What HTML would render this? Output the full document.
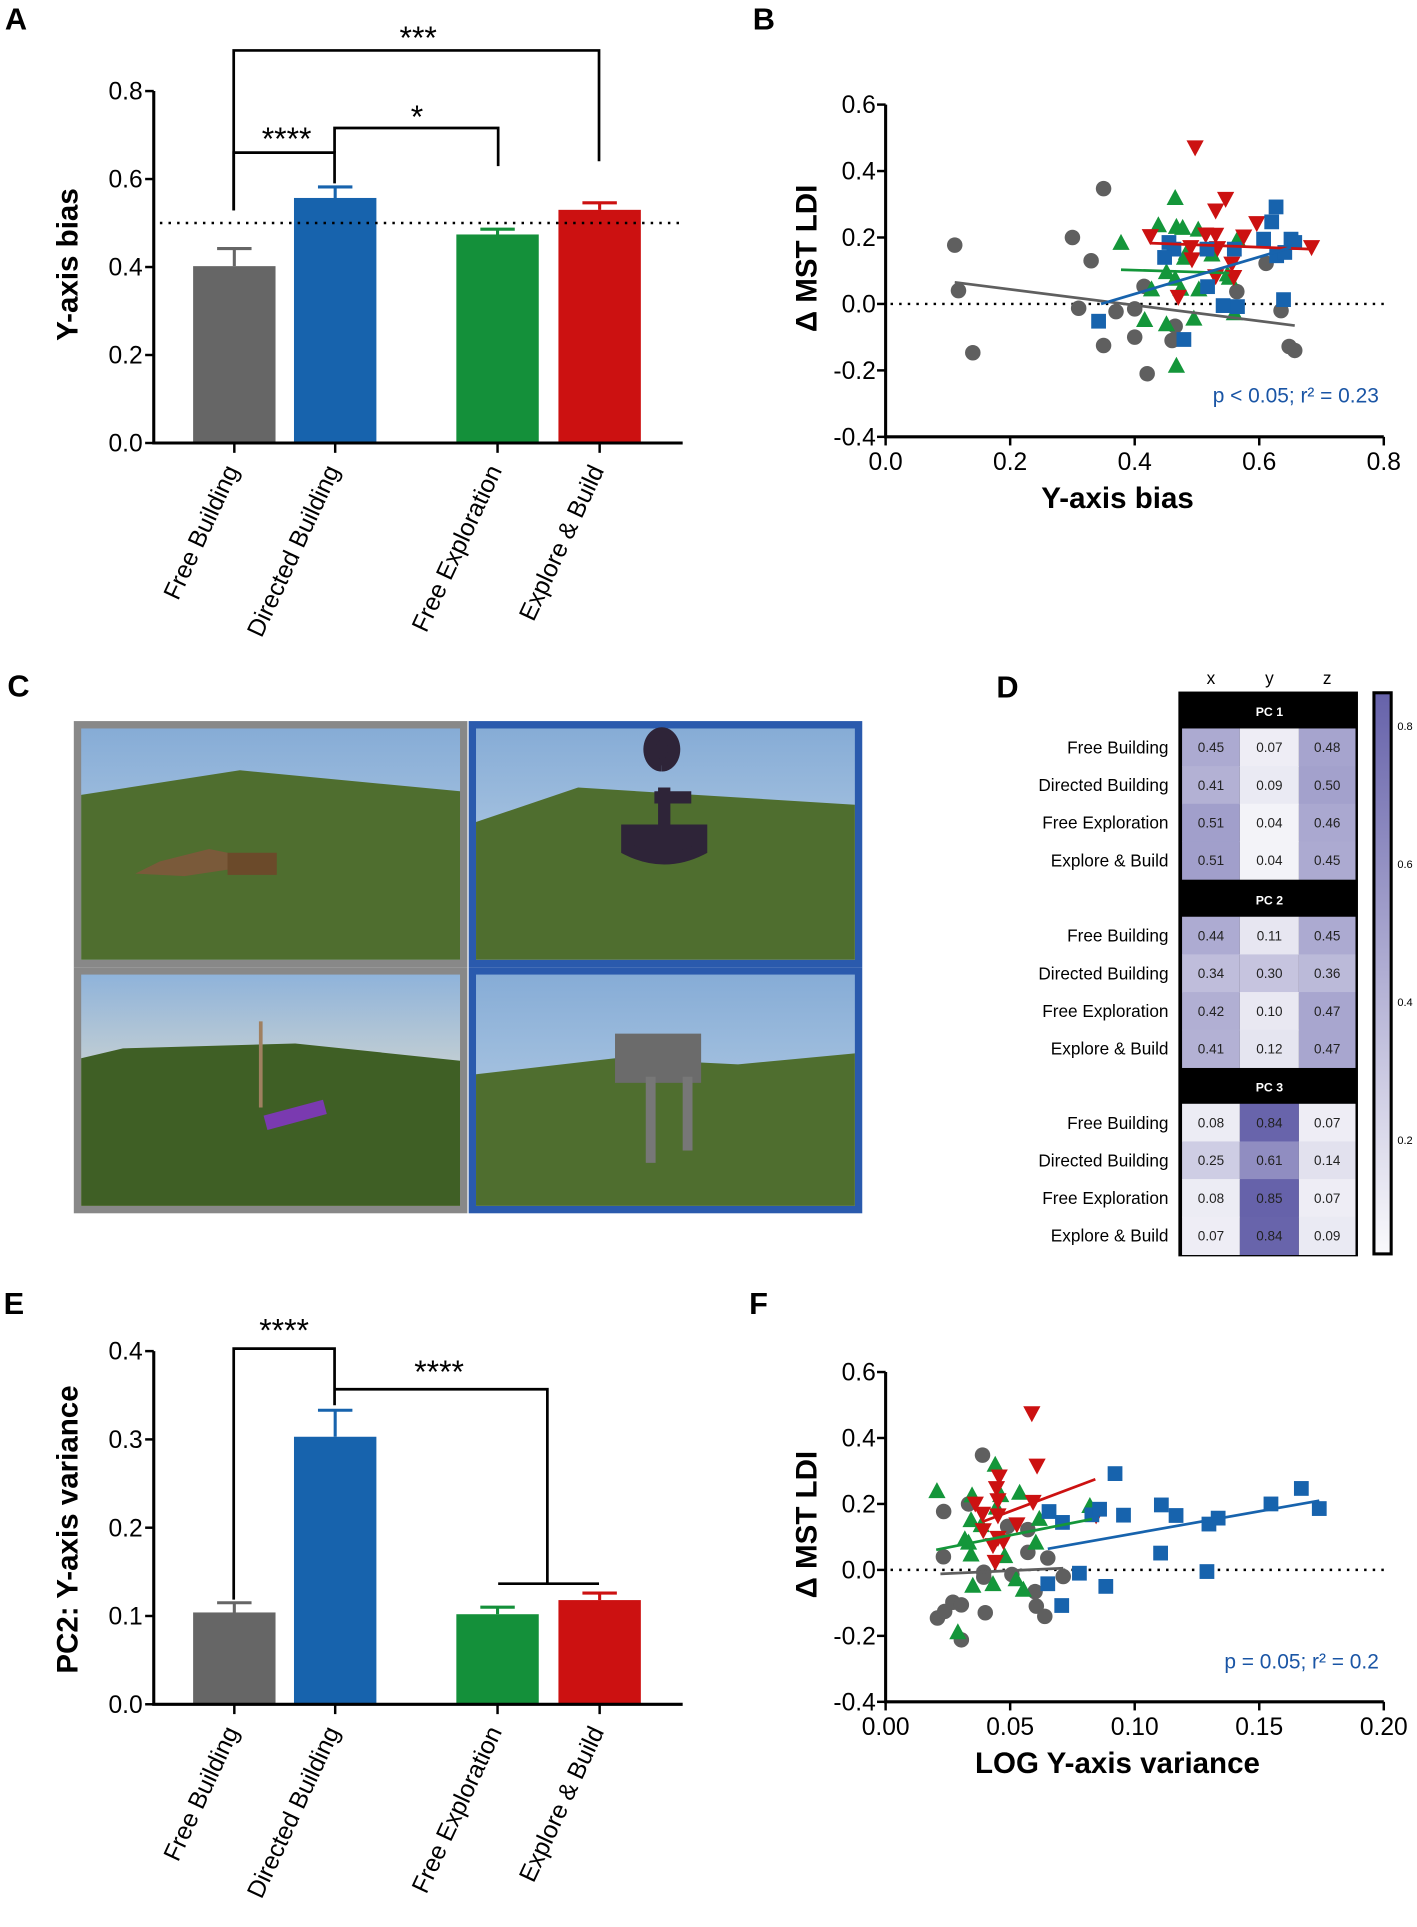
<!DOCTYPE html>
<html><head><meta charset="utf-8"><style>
html,body{margin:0;padding:0;background:#fff;}
svg{display:block;font-family:"Liberation Sans",Arial,sans-serif;}
</style></head><body>
<svg id="fig" width="1417" height="1927" viewBox="0 0 1152 1566" preserveAspectRatio="none" xmlns="http://www.w3.org/2000/svg">
<g>
 <rect x="60" y="586" width="320" height="200" fill="#888"/>
 <rect x="381" y="586" width="320" height="200" fill="#2a5aad"/>
 <rect x="60" y="786" width="320" height="200" fill="#888"/>
 <rect x="381" y="786" width="320" height="200" fill="#2a5aad"/>
 <defs>
  <linearGradient id="sky" x1="0" y1="0" x2="0" y2="1"><stop offset="0" stop-color="#86acd6"/><stop offset="1" stop-color="#c6d9ea"/></linearGradient>
  <linearGradient id="sky2" x1="0" y1="0" x2="0" y2="1"><stop offset="0" stop-color="#8fb3da"/><stop offset="0.6" stop-color="#dcdcd0"/><stop offset="1" stop-color="#e6dcc2"/></linearGradient>
 </defs>
 <rect x="66" y="592" width="308" height="188" fill="url(#sky)"/>
 <polygon points="66,646 195,626 374,643 374,780 66,780" fill="#4f6e2f"/>
 <rect x="387" y="592" width="308" height="188" fill="url(#sky)"/>
 <polygon points="387,668 470,640 695,654 695,780 387,780" fill="#4f6e2f"/>
 <rect x="66" y="792" width="308" height="188" fill="url(#sky2)"/>
 <polygon points="66,860 100,852 240,848 374,862 374,980 66,980" fill="#3f5f25"/>
 <rect x="387" y="792" width="308" height="188" fill="url(#sky)"/>
 <polygon points="387,873 500,860 600,865 695,856 695,980 387,980" fill="#4f6e2f"/>
 <polygon points="110,710 130,700 170,690 200,696 190,706 150,712" fill="#7a5a3a"/>
 <rect x="185" y="693" width="40" height="18" fill="#6b4a2a"/>
 <path d="M538,622 a10,13 0 1,1 0.1,0 M532,648 h30 M540,640 v50 M510,690 q30,15 60,0 v-15 h-60z" stroke="#2e2438" stroke-width="10" fill="#2e2438"/>
 <rect x="500" y="840" width="70" height="40" fill="#6b6b6b"/>
 <rect x="525" y="875" width="8" height="70" fill="#777"/>
 <rect x="555" y="875" width="8" height="60" fill="#777"/>
 <line x1="212" y1="900" x2="212" y2="830" stroke="#a08060" stroke-width="3"/>
 <rect x="215" y="900" width="50" height="12" fill="#7a3ab0" transform="rotate(-15 240 906)"/>
</g>
</svg>
<script>
// ---------- data ----------
const barCats = ["Free Building","Directed Building","Free Exploration","Explore & Build"];
const barColors = ["#666666","#1763ad","#14903a","#cc1111"];
const aMeans = [0.402, 0.557, 0.474, 0.530];
const aErrs = [0.040, 0.025, 0.012, 0.016];
const aTicks = [0.0,0.2,0.4,0.6,0.8];
const eMeans = [0.104, 0.303, 0.102, 0.118];
const eErrs = [0.011, 0.030, 0.008, 0.008];
const eTicks = [0.0,0.1,0.2,0.3,0.4];

const bTicksX = [0.0,0.2,0.4,0.6,0.8];
const bTicksY = [0.6,0.4,0.2,0.0,-0.2,-0.4];
const bGreyX = [0.111,0.117,0.14,0.30,0.35,0.33,0.415,0.31,0.37,0.40,0.35,0.40,0.42,0.46,0.467,0.465,0.564,0.611,0.635,0.648,0.657];
const bGreyY = [0.177,0.04,-0.147,0.20,0.347,0.13,0.053,-0.013,-0.023,-0.015,-0.125,-0.10,-0.21,-0.11,-0.105,-0.067,0.037,0.122,-0.02,-0.128,-0.14];
const bGreenX = [0.465,0.438,0.378,0.467,0.477,0.502,0.565,0.483,0.48,0.524,0.451,0.465,0.427,0.474,0.503,0.549,0.552,0.416,0.451,0.495,0.56,0.467];
const bGreenY = [0.32,0.238,0.185,0.233,0.23,0.225,0.195,0.155,0.14,0.15,0.097,0.077,0.045,0.047,0.045,0.09,0.08,-0.047,-0.06,-0.043,-0.027,-0.185];
const bRedX = [0.497,0.546,0.53,0.596,0.425,0.514,0.53,0.575,0.49,0.533,0.492,0.556,0.53,0.559,0.47,0.684];
const bRedY = [0.47,0.315,0.28,0.242,0.203,0.208,0.207,0.202,0.17,0.167,0.133,0.12,0.082,0.08,0.02,0.17];
const bBlueX = [0.627,0.62,0.607,0.651,0.657,0.455,0.463,0.448,0.516,0.56,0.628,0.641,0.517,0.639,0.542,0.565,0.342,0.479];
const bBlueY = [0.292,0.247,0.195,0.195,0.185,0.185,0.165,0.14,0.165,0.165,0.145,0.155,0.052,0.013,-0.005,-0.008,-0.052,-0.107];
const bFitGrey = [[0.111,0.065],[0.657,-0.065]];
const bFitGreen = [[0.378,0.103],[0.552,0.093]];
const bFitRed = [[0.425,0.183],[0.683,0.165]];
const bFitBlue = [[0.346,0.0],[0.651,0.17]];

const fTicksX = [0.00,0.05,0.10,0.15,0.20];
const fTicksY = [0.6,0.4,0.2,0.0,-0.2,-0.4];
const fGreyX = [0.0389,0.0333,0.0233,0.0232,0.049,0.0571,0.0571,0.0651,0.0394,0.0394,0.0507,0.0713,0.06,0.0605,0.0639,0.0208,0.0237,0.027,0.0304,0.04,0.0304];
const fGreyY = [0.348,0.20,0.177,0.04,0.132,0.122,0.053,0.036,-0.007,-0.022,-0.014,-0.02,-0.066,-0.11,-0.141,-0.146,-0.126,-0.098,-0.106,-0.13,-0.212];
const fGreenX = [0.044,0.0206,0.0347,0.0462,0.0538,0.0445,0.0343,0.0384,0.0617,0.082,0.0318,0.0333,0.0343,0.0478,0.0603,0.035,0.0431,0.0524,0.0553,0.029];
const fGreenY = [0.32,0.24,0.227,0.228,0.235,0.19,0.152,0.137,0.156,0.195,0.094,0.084,0.048,0.043,0.084,-0.047,-0.042,-0.027,-0.059,-0.188];
const fRedX = [0.0587,0.0608,0.0456,0.0445,0.0451,0.0592,0.036,0.0389,0.0451,0.0527,0.0392,0.0451,0.0431,0.0473,0.044,0.0845];
const fRedY = [0.474,0.315,0.282,0.247,0.21,0.205,0.20,0.169,0.164,0.137,0.119,0.096,0.074,0.086,0.023,0.164];
const fBlueX = [0.0921,0.0656,0.071,0.0828,0.0859,0.0955,0.1107,0.1166,0.1298,0.1335,0.1547,0.1669,0.1741,0.1104,0.129,0.0778,0.0651,0.0884,0.0707];
const fBlueY = [0.292,0.177,0.144,0.167,0.184,0.166,0.197,0.165,0.139,0.157,0.20,0.247,0.186,0.051,-0.005,-0.01,-0.042,-0.05,-0.108];
const fFitGrey = [[0.022,-0.012],[0.0713,0.005]];
const fFitGreen = [[0.0203,0.061],[0.0828,0.154]];
const fFitRed = [[0.0389,0.146],[0.0842,0.275]];
const fFitBlue = [[0.0651,0.064],[0.1741,0.21]];

const pcNames = ["PC 1","PC 2","PC 3"];
const axisNames = ["x","y","z"];
const rowNames = ["Free Building","Directed Building","Free Exploration","Explore & Build"];
const pc1Vals = [[0.45,0.07,0.48],[0.41,0.09,0.50],[0.51,0.04,0.46],[0.51,0.04,0.45]];
const pc2Vals = [[0.44,0.11,0.45],[0.34,0.30,0.36],[0.42,0.10,0.47],[0.41,0.12,0.47]];
const pc3Vals = [[0.08,0.84,0.07],[0.25,0.61,0.14],[0.08,0.85,0.07],[0.07,0.84,0.09]];
const cbTicks = [0.8,0.6,0.4,0.2];

// ---------- helpers ----------
const svg = document.getElementById('fig');
const NS = 'http://www.w3.org/2000/svg';
function mk(tag, attrs, parent){
  const e = document.createElementNS(NS, tag);
  for (const k in attrs) e.setAttribute(k, attrs[k]);
  (parent||svg).appendChild(e);
  return e;
}
function txt(str, attrs, parent){
  const e = mk('text', attrs, parent);
  e.textContent = str;
  return e;
}
function panelLetter(l, x, y){
  const t = txt(l, {x:x, y:y, 'font-size':25, 'font-weight':'bold'});
  
  
}
panelLetter('A', 4, 24);
panelLetter('B', 612, 24);
panelLetter('C', 6, 566);
panelLetter('D', 810, 567);
panelLetter('E', 3, 1068);
panelLetter('F', 609, 1068);

// ---------- bar charts ----------
function barChart(name, means, errs, ticks, yMin, yMax, yTop, yBot, title, titleY, brackets){
  const g = mk('g', {});
  
  
  const x0 = 125, x1 = 555;
  const barX = [157, 239, 371, 454];
  const bw = 67;
  const ys = v => yBot - (v - yMin) / (yMax - yMin) * (yBot - yTop);
  for (let i = 0; i < means.length; i++){
    const r = mk('rect', {x:barX[i], y:ys(means[i]), width:bw, height:ys(0)-ys(means[i]), fill:barColors[i]}, g);
    
    
    const cx = barX[i] + bw/2;
    const eb = mk('path', {d:`M${cx},${ys(means[i])} V${ys(means[i]+errs[i])} M${cx-14},${ys(means[i]+errs[i])} H${cx+14}`, stroke:barColors[i], 'stroke-width':2.5, fill:'none'}, g);
    
    
    const tk = mk('line', {x1:cx, y1:yBot, x2:cx, y2:yBot+8, stroke:'#000', 'stroke-width':2}, g);
    
    
    const lab = txt(barCats[i], {x:cx+4, y:yBot+22, 'font-size':20, 'text-anchor':'end', transform:`rotate(-65 ${cx+4} ${yBot+22})`}, g);
    
    
  }
  const ax = mk('path', {d:`M${x0},${yTop} V${yBot} H${x1}`, stroke:'#000', 'stroke-width':2.5, fill:'none'}, g);
  
  
  ticks.forEach(t => {
    const l = mk('line', {x1:x0-7, y1:ys(t), x2:x0, y2:ys(t), stroke:'#000', 'stroke-width':2}, g);
    
    
    const tt = txt(t.toFixed(1), {x:x0-9, y:ys(t)+7, 'font-size':20, 'text-anchor':'end'}, g);
    
    
  });
  const yt = txt(title, {x:63, y:titleY, 'font-size':24, 'font-weight':'bold', 'text-anchor':'middle', transform:`rotate(-90 63 ${titleY})`}, g);
  
  
  brackets.forEach(b => {
    const p = mk('path', {d:b.d, stroke:'#000', 'stroke-width':2.2, fill:'none'}, g);
    
    
    const s = txt(b.s, {x:b.x, y:b.y, 'font-size':26, 'text-anchor':'middle'}, g);
    
    
  });
  return {g, ys};
}
const A = barChart('panel-a-bar-chart', aMeans, aErrs, aTicks, 0, 0.8, 74, 360, 'Y-axis bias', 215, [
  {d:'M190,171 V41 H487 V131', s:'***', x:340, y:40},
  {d:'M190,171 V124 H272 V149', s:'****', x:233, y:122},
  {d:'M272,124 V104 H405 V135', s:'*', x:339, y:104}
]);
const dl = mk('line', {x1:130, y1:A.ys(0.5), x2:555, y2:A.ys(0.5), stroke:'#000', 'stroke-width':2, 'stroke-dasharray':'2,5'}, A.g);


barChart('panel-e-bar-chart', eMeans, eErrs, eTicks, 0, 0.4, 1098, 1385, 'PC2: Y-axis variance', 1243, [
  {d:'M190,1300 V1096 H272 V1142', s:'****', x:231, y:1090},
  {d:'M272,1129 H445 V1287 M405,1287 H487', s:'****', x:357, y:1124}
]);

// ---------- scatter plots ----------
function scatter(name, cfg){
  const g = mk('g', {});
  
  
  const xs = v => cfg.xL + (v - cfg.xMin)/(cfg.xMax - cfg.xMin)*(cfg.xR - cfg.xL);
  const ys = v => cfg.yB - (v - cfg.yMin)/(cfg.yMax - cfg.yMin)*(cfg.yB - cfg.yT);
  const zl = mk('line', {x1:cfg.xL+4, y1:ys(0), x2:cfg.xR, y2:ys(0), stroke:'#000', 'stroke-width':2, 'stroke-dasharray':'2,5'}, g);
  
  
  const ax = mk('path', {d:`M${cfg.xL},${cfg.yT} V${cfg.yB} H${cfg.xR}`, stroke:'#000', 'stroke-width':2.5, fill:'none'}, g);
  
  
  cfg.ticksX.forEach(t => {
    const l = mk('line', {x1:xs(t), y1:cfg.yB, x2:xs(t), y2:cfg.yB+7, stroke:'#000', 'stroke-width':2}, g);
    
    
    const tt = txt(t.toFixed(cfg.dx), {x:xs(t), y:cfg.yB+27, 'font-size':20, 'text-anchor':'middle'}, g);
    
    
  });
  cfg.ticksY.forEach(t => {
    const l = mk('line', {x1:cfg.xL-7, y1:ys(t), x2:cfg.xL, y2:ys(t), stroke:'#000', 'stroke-width':2}, g);
    
    
    const tt = txt(t.toFixed(1), {x:cfg.xL-8, y:ys(t)+7, 'font-size':20, 'text-anchor':'end'}, g);
    
    
  });
  const cx = (cfg.xL+cfg.xR)/2, cy = (cfg.yT+cfg.yB)/2;
  const xt = txt(cfg.xTitle, {x:cx-14, y:cfg.yB+58, 'font-size':24, 'font-weight':'bold', 'text-anchor':'middle'}, g);
  
  
  const yt = txt('Δ MST LDI', {x:cfg.xL-56, y:cy-10, 'font-size':24, 'font-weight':'bold', 'text-anchor':'middle', transform:`rotate(-90 ${cfg.xL-56} ${cy-10})`}, g);
  
  
  const series = [
    {X:cfg.grey[0], Y:cfg.grey[1], c:'#5f5f5f', m:'circle', n:'free-building', fit:cfg.grey[2]},
    {X:cfg.green[0], Y:cfg.green[1], c:'#14963a', m:'up', n:'free-exploration', fit:cfg.green[2]},
    {X:cfg.red[0], Y:cfg.red[1], c:'#cc1111', m:'down', n:'explore-build', fit:cfg.red[2]},
    {X:cfg.blue[0], Y:cfg.blue[1], c:'#1763ad', m:'square', n:'directed-building', fit:cfg.blue[2]}
  ];
  series.forEach(s => {
    for (let i = 0; i < s.X.length; i++){
      const px = xs(s.X[i]), py = ys(s.Y[i]);
      let e;
      if (s.m === 'circle') e = mk('circle', {cx:px, cy:py, r:6.3, fill:s.c}, g);
      else if (s.m === 'square') e = mk('rect', {x:px-6, y:py-6, width:12, height:12, fill:s.c}, g);
      else if (s.m === 'up') e = mk('polygon', {points:`${px},${py-7} ${px+7},${py+6} ${px-7},${py+6}`, fill:s.c}, g);
      else e = mk('polygon', {points:`${px},${py+7} ${px+7},${py-6} ${px-7},${py-6}`, fill:s.c}, g);
      
      
    }
  });
  series.forEach(s => {
    const f = s.fit;
    const l = mk('line', {x1:xs(f[0][0]), y1:ys(f[0][1]), x2:xs(f[1][0]), y2:ys(f[1][1]), stroke:s.c, 'stroke-width':2.2}, g);
    
    
  });
  const an = txt(cfg.note, {x:cfg.xR-4, y:cfg.noteY, 'font-size':17, fill:'#1a55a5', 'text-anchor':'end'}, g);
  
  
}
scatter('panel-b-scatter', {xL:720, xR:1125, yT:85, yB:355, xMin:0, xMax:0.8, yMin:-0.4, yMax:0.6,
  ticksX:bTicksX, ticksY:bTicksY, dx:1, xTitle:'Y-axis bias',
  grey:[bGreyX,bGreyY,bFitGrey], green:[bGreenX,bGreenY,bFitGreen], red:[bRedX,bRedY,bFitRed], blue:[bBlueX,bBlueY,bFitBlue],
  note:'p < 0.05; r² = 0.23', noteY:327});
scatter('panel-f-scatter', {xL:720, xR:1125, yT:1115, yB:1383, xMin:0, xMax:0.2, yMin:-0.4, yMax:0.6,
  ticksX:fTicksX, ticksY:fTicksY, dx:2, xTitle:'LOG Y-axis variance',
  grey:[fGreyX,fGreyY,fFitGrey], green:[fGreenX,fGreenY,fFitGreen], red:[fRedX,fRedY,fFitRed], blue:[fBlueX,fBlueY,fFitBlue],
  note:'p = 0.05; r² = 0.2', noteY:1356});

// ---------- heatmap ----------
(function(){
  const g = mk('g', {});
  
  
  const colX = [961, 1008, 1056];
  const colW = [47, 48, 46];
  const blockTop = [562, 715, 867];
  const hdrH = 30, rowH = 30.6;
  const vmax = 0.85;
  const col = v => {
    const t = Math.max(0, Math.min(1, v / vmax));
    const r = Math.round(250 + (102-250)*t), gg = Math.round(250 + (98-250)*t), b = Math.round(252 + (170-252)*t);
    return `rgb(${r},${gg},${b})`;
  };
  const outer = mk('rect', {x:958, y:562, width:146, height:459, fill:'#000'}, g);
  
  
  axisNames.forEach((a, j) => {
    const t = txt(a, {x:colX[j]+colW[j]/2, y:556, 'font-size':14, 'text-anchor':'middle'}, g);
    
    
  });
  const blocks = [pc1Vals, pc2Vals, pc3Vals];
  blocks.forEach((vals, b) => {
    const ht = txt(pcNames[b], {x:1032, y:blockTop[b]+20, 'font-size':10, 'font-weight':'bold', fill:'#fff', 'text-anchor':'middle'}, g);
    
    
    vals.forEach((row, i) => {
      const y = blockTop[b] + hdrH + i*rowH;
      const rl = txt(rowNames[i], {x:950, y:y+rowH/2+5, 'font-size':14, 'text-anchor':'end'}, g);
      
      
      row.forEach((v, j) => {
        const c = mk('rect', {x:colX[j], y:y, width:colW[j], height:rowH+0.5, fill:col(v)}, g);
        
        
        const ct = txt(v.toFixed(2), {x:colX[j]+colW[j]/2, y:y+rowH/2+4, 'font-size':11, 'text-anchor':'middle', fill:'#222'}, g);
        
        
      });
    });
  });
  const defs = mk('defs', {}, g);
  const lg = mk('linearGradient', {id:'cbg', x1:0, y1:1, x2:0, y2:0}, defs);
  mk('stop', {offset:0, 'stop-color':col(0)}, lg);
  mk('stop', {offset:1, 'stop-color':col(0.87)}, lg);
  const cbY = v => 1039 - v * 561;
  const cb = mk('rect', {x:1117, y:563, width:14, height:456, fill:'url(#cbg)', stroke:'#000', 'stroke-width':2.5}, g);
  
  
  cbTicks.forEach(t => {
    const tt = txt(t.toFixed(1), {x:1136, y:cbY(t)+3, 'font-size':9}, g);
    
    
  });
})();
</script>
</body></html>
